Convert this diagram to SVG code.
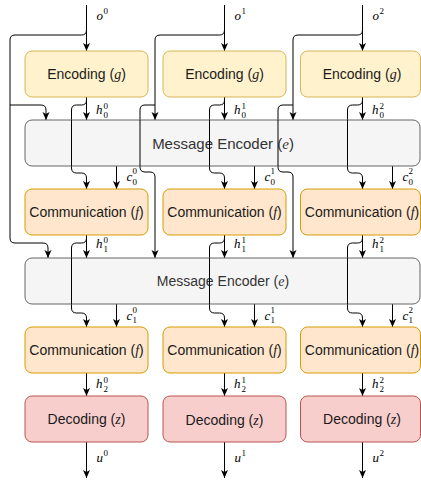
<svg xmlns="http://www.w3.org/2000/svg" width="421" height="481" viewBox="0 0 421 481">
<style>
.enc{fill:#fff2cc;stroke:#d6b656;stroke-width:1}
.com{fill:#ffe6cc;stroke:#d79b00;stroke-width:1}
.dec{fill:#f8cecc;stroke:#b85450;stroke-width:1}
.me{fill:#f5f5f5;stroke:#666666;stroke-width:1}
.lbl{font-family:"Liberation Sans",Arial,sans-serif;font-size:14px;fill:#1a1a1a;text-anchor:middle}
.melbl{font-family:"Liberation Sans",Arial,sans-serif;fill:#333333;text-anchor:middle}
.mi{font-family:"Liberation Serif","Times New Roman",serif;font-style:italic}
.v{font-family:"Liberation Serif","Times New Roman",serif;font-style:italic;font-size:13px;fill:#000}
.n{font-family:"Liberation Serif","Times New Roman",serif;font-size:9px;fill:#000}
.e{fill:none;stroke:#000;stroke-width:1;marker-end:url(#arr)}
.l{fill:none;stroke:#000;stroke-width:1}
</style>
<defs>
<marker id="arr" markerUnits="userSpaceOnUse" markerWidth="9" markerHeight="8" refX="8" refY="3.5" orient="auto">
<path d="M0,0 L8,3.5 L0,7 L2,3.5 Z" fill="#000"/>
</marker>
</defs>

<g id="connectors">
<!-- column 0 -->
<path class="e" d="M86.5,5 V51"/>
<path class="e" d="M86.5,30 Q86.5,35 81.5,35 H15 Q10,35 10,40 V238 Q10,243 15,243 H43 Q48,243 48,248 V258"/>
<path class="e" d="M10,105 H41 Q46,105 46,110 V120"/>
<path class="e" d="M86.5,97 V120"/>
<path class="e" d="M86.5,100 Q86.5,105 81.5,105 H76.5 Q71.5,105 71.5,110 V168 Q71.5,173 76.5,173 H81.5 Q86.5,173 86.5,178 V189"/>
<path class="e" d="M116.5,166 V189"/>
<path class="e" d="M86.5,235 V258"/>
<path class="e" d="M86.5,238 Q86.5,243 81.5,243 H76.5 Q71.5,243 71.5,248 V308 Q71.5,313 76.5,313 H81.5 Q86.5,313 86.5,318 V327"/>
<path class="e" d="M116.5,304 V327"/>
<path class="e" d="M86.5,373 V396"/>
<path class="e" d="M86.5,442 V478"/>
<!-- column 1 -->
<path class="e" d="M224.5,5 V51"/>
<path class="e" d="M224.5,30 Q224.5,35 219.5,35 H160 Q155,35 155,40 V120"/>
<path class="e" d="M155,105 H145 Q140,105 140,110 V167 Q140,172 145,172 H150 Q155,172 155,177 V258"/>
<path class="e" d="M224.5,97 V120"/>
<path class="e" d="M224.5,100 Q224.5,105 219.5,105 H214.5 Q209.5,105 209.5,110 V168 Q209.5,173 214.5,173 H219.5 Q224.5,173 224.5,178 V189"/>
<path class="e" d="M254.5,166 V189"/>
<path class="e" d="M224.5,235 V258"/>
<path class="e" d="M224.5,238 Q224.5,243 219.5,243 H214.5 Q209.5,243 209.5,248 V308 Q209.5,313 214.5,313 H219.5 Q224.5,313 224.5,318 V327"/>
<path class="e" d="M254.5,304 V327"/>
<path class="e" d="M224.5,373 V396"/>
<path class="e" d="M224.5,442 V478"/>
<!-- column 2 -->
<path class="e" d="M362.5,5 V51"/>
<path class="e" d="M362.5,30 Q362.5,35 357.5,35 H298 Q293,35 293,40 V120"/>
<path class="e" d="M293,105 H283 Q278,105 278,110 V167 Q278,172 283,172 H288 Q293,172 293,177 V258"/>
<path class="e" d="M362.5,97 V120"/>
<path class="e" d="M362.5,100 Q362.5,105 357.5,105 H352.5 Q347.5,105 347.5,110 V168 Q347.5,173 352.5,173 H357.5 Q362.5,173 362.5,178 V189"/>
<path class="e" d="M392.5,166 V189"/>
<path class="e" d="M362.5,235 V258"/>
<path class="e" d="M362.5,238 Q362.5,243 357.5,243 H352.5 Q347.5,243 347.5,248 V308 Q347.5,313 352.5,313 H357.5 Q362.5,313 362.5,318 V327"/>
<path class="e" d="M392.5,304 V327"/>
<path class="e" d="M362.5,373 V396"/>
<path class="e" d="M362.5,442 V478"/>
</g>

<g id="me1">
<rect class="me" x="25" y="120" width="395" height="46" rx="7"/>
<text class="melbl" x="223" y="148.5" font-size="15">Message Encoder (<tspan class="mi">e</tspan>)</text>
</g>
<g id="me2">
<rect class="me" x="25" y="258" width="395" height="46" rx="7"/>
<text class="melbl" x="223" y="286" font-size="14">Message Encoder (<tspan class="mi">e</tspan>)</text>
</g>

<!-- redraw crossing lines over ME boxes -->
<g id="connectors-over">
<path class="l" d="M71.5,120 V166"/>
<path class="l" d="M140,120 V166"/>
<path class="l" d="M209.5,120 V166"/>
<path class="l" d="M278,120 V166"/>
<path class="l" d="M347.5,120 V166"/>
<path class="l" d="M71.5,258 V304"/>
<path class="l" d="M209.5,258 V304"/>
<path class="l" d="M347.5,258 V304"/>
</g>

<g id="enc0"><rect class="enc" x="25" y="51" width="123" height="46" rx="7"/><text class="lbl" x="86.5" y="79">Encoding (<tspan class="mi">g</tspan>)</text></g>
<g id="enc1"><rect class="enc" x="163" y="51" width="123" height="46" rx="7"/><text class="lbl" x="224.5" y="79">Encoding (<tspan class="mi">g</tspan>)</text></g>
<g id="enc2"><rect class="enc" x="300.5" y="51" width="120" height="46" rx="7"/><text class="lbl" x="362" y="79">Encoding (<tspan class="mi">g</tspan>)</text></g>

<g id="com0a"><rect class="com" x="25" y="189" width="123" height="46" rx="7"/><text class="lbl" x="86.5" y="217">Communication (<tspan class="mi">f</tspan>)</text></g>
<g id="com1a"><rect class="com" x="163" y="189" width="123" height="46" rx="7"/><text class="lbl" x="224.5" y="217">Communication (<tspan class="mi">f</tspan>)</text></g>
<g id="com2a"><rect class="com" x="300.5" y="189" width="120" height="46" rx="7"/><text class="lbl" x="362" y="217">Communication (<tspan class="mi">f</tspan>)</text></g>

<g id="com0b"><rect class="com" x="25" y="327" width="123" height="46" rx="7"/><text class="lbl" x="86.5" y="355">Communication (<tspan class="mi">f</tspan>)</text></g>
<g id="com1b"><rect class="com" x="163" y="327" width="123" height="46" rx="7"/><text class="lbl" x="224.5" y="355">Communication (<tspan class="mi">f</tspan>)</text></g>
<g id="com2b"><rect class="com" x="300.5" y="327" width="120" height="46" rx="7"/><text class="lbl" x="362" y="355">Communication (<tspan class="mi">f</tspan>)</text></g>

<g id="dec0"><rect class="dec" x="25" y="396" width="123" height="46" rx="7"/><text class="lbl" x="86.5" y="424">Decoding (<tspan class="mi">z</tspan>)</text></g>
<g id="dec1"><rect class="dec" x="163" y="396" width="123" height="46" rx="7"/><text class="lbl" x="224.5" y="425" font-size="16">Decoding (<tspan class="mi">z</tspan>)</text></g>
<g id="dec2"><rect class="dec" x="300.5" y="396" width="120" height="46" rx="7"/><text class="lbl" x="362" y="424">Decoding (<tspan class="mi">z</tspan>)</text></g>

<g id="labels">
<!-- o -->
<text class="v" x="96.5" y="20">o</text><text class="n" x="103.5" y="14">0</text>
<text class="v" x="234.5" y="20">o</text><text class="n" x="241.5" y="14">1</text>
<text class="v" x="372.5" y="20">o</text><text class="n" x="379.5" y="14">2</text>
<!-- h0 -->
<text class="v" x="96" y="114">h</text><text class="n" x="103.5" y="109">0</text><text class="n" x="103.5" y="117.5">0</text>
<text class="v" x="234" y="114">h</text><text class="n" x="241.5" y="109">1</text><text class="n" x="241.5" y="117.5">0</text>
<text class="v" x="372" y="114">h</text><text class="n" x="379.5" y="109">2</text><text class="n" x="379.5" y="117.5">0</text>
<!-- c0 -->
<text class="v" x="126.5" y="181">c</text><text class="n" x="132.5" y="174">0</text><text class="n" x="132.5" y="184.5">0</text>
<text class="v" x="264.5" y="181">c</text><text class="n" x="270.5" y="174">1</text><text class="n" x="270.5" y="184.5">0</text>
<text class="v" x="402.5" y="181">c</text><text class="n" x="408.5" y="174">2</text><text class="n" x="408.5" y="184.5">0</text>
<!-- h1 -->
<text class="v" x="96" y="248">h</text><text class="n" x="103.5" y="243">0</text><text class="n" x="103.5" y="251.5">1</text>
<text class="v" x="234" y="248">h</text><text class="n" x="241.5" y="243">1</text><text class="n" x="241.5" y="251.5">1</text>
<text class="v" x="372" y="248">h</text><text class="n" x="379.5" y="243">2</text><text class="n" x="379.5" y="251.5">1</text>
<!-- c1 -->
<text class="v" x="126.5" y="319.5">c</text><text class="n" x="132.5" y="312.5">0</text><text class="n" x="132.5" y="323">1</text>
<text class="v" x="264.5" y="319.5">c</text><text class="n" x="270.5" y="312.5">1</text><text class="n" x="270.5" y="323">1</text>
<text class="v" x="402.5" y="319.5">c</text><text class="n" x="408.5" y="312.5">2</text><text class="n" x="408.5" y="323">1</text>
<!-- h2 -->
<text class="v" x="96" y="388">h</text><text class="n" x="103.5" y="383">0</text><text class="n" x="103.5" y="391.5">2</text>
<text class="v" x="234" y="388">h</text><text class="n" x="241.5" y="383">1</text><text class="n" x="241.5" y="391.5">2</text>
<text class="v" x="372" y="388">h</text><text class="n" x="379.5" y="383">2</text><text class="n" x="379.5" y="391.5">2</text>
<!-- u -->
<text class="v" x="96.5" y="461.5">u</text><text class="n" x="103.5" y="456">0</text>
<text class="v" x="234.5" y="461.5">u</text><text class="n" x="241.5" y="456">1</text>
<text class="v" x="372.5" y="461.5">u</text><text class="n" x="379.5" y="456">2</text>
</g>
</svg>
